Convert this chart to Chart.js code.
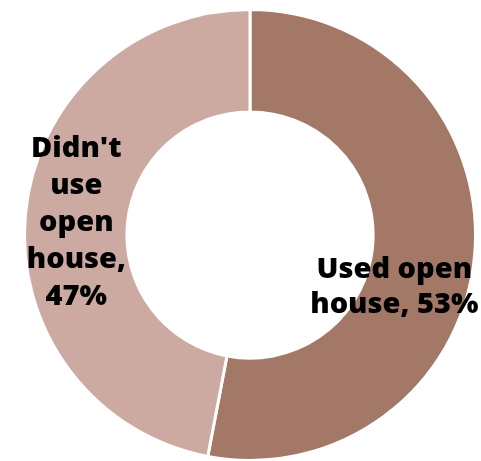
<!DOCTYPE html>
<html>
<head>
<meta charset="utf-8">
<script src="https://cdn.jsdelivr.net/npm/chart.js@4"></script>
<style>
  html, body { margin: 0; padding: 0; background: #fff; overflow: hidden; }
  #wrap { width: 481px; height: 463px; }
</style>
</head>
<body>
<div id="wrap"><canvas id="donut"></canvas></div>
<script>
const categories = ['Used open house', "Didn't use open house"];
const shares = [53, 47];
const sliceColors = ['#A47866', '#CDAAA1'];
// label text, split into lines the way they wrap inside the ring
const labelLines = [
    ['Used open', 'house, 53%'],
    ["Didn't", 'use', 'open', 'house,', '47%'],
];
// label centre, as a fraction of the outer radius from the ring centre
const labelOffsets = [[0.64, 0.232], [-0.77, -0.055]];

const ringLabels = {
    id: 'ringLabels',
    afterDatasetsDraw(chart) {
        const ctx = chart.ctx;
        const arcs = chart.getDatasetMeta(0).data;
        ctx.save();
        ctx.fillStyle = '#000';
        ctx.font = '800 29px "Open Sans", sans-serif';
        ctx.textAlign = 'center';
        ctx.textBaseline = 'middle';
        arcs.forEach((arc, i) => {
            const r = arc.outerRadius;
            const cx = arc.x + labelOffsets[i][0] * r;
            const cy = arc.y + labelOffsets[i][1] * r;
            const lines = labelLines[i];
            const lh = i === 0 ? 35 : 37;
            lines.forEach((t, k) => {
                ctx.fillText(t, cx, cy + (k - (lines.length - 1) / 2) * lh);
            });
        });
        ctx.restore();
    }
};

new Chart(document.getElementById('donut'), {
    type: 'doughnut',
    data: {
        labels: categories,
        datasets: [{
            data: shares,
            backgroundColor: sliceColors,
            borderColor: '#fff',
            borderWidth: 3,
        }],
    },
    options: {
        responsive: true,
        maintainAspectRatio: false,
        animation: false,
        cutout: '54.6%',
        layout: { padding: { top: 8, bottom: 1, left: 23, right: 4 } },
        plugins: {
            legend: { display: false },
            tooltip: { enabled: false },
        },
    },
    plugins: [ringLabels],
});
</script>
</body>
</html>
